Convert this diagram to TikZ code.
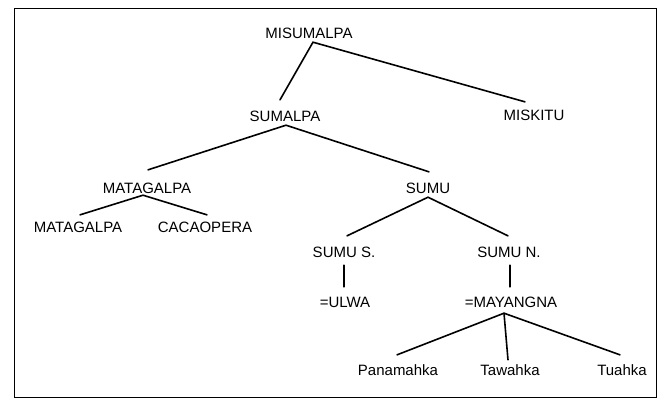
\documentclass[tikz,border=0pt]{standalone}
\usepackage{fontspec}
\setmainfont{Liberation Sans}
\usetikzlibrary{calc}
\begin{document}
\begin{tikzpicture}[x=1pt,y=-1pt,
  lab/.style={anchor=base,inner sep=0pt,text height=10.45pt,text depth=0pt,font=\fontsize{15}{17}\selectfont},
  edge/.style={line width=1.6pt,line cap=round}]
\useasboundingbox (0,0) rectangle (662,398);
\draw[line width=1pt] (14,9) rectangle (656,397);
\node[lab] (misumalpa) at (309,38.5) {MISUMALPA};
\node[lab] (sumalpa) at (285,121.5) {SUMALPA};
\node[lab] (miskitu) at (534,120.5) {MISKITU};
\node[lab] (matagalpaA) at (147,193.5) {MATAGALPA};
\node[lab] (sumu) at (428,193.5) {SUMU};
\node[lab] (matagalpaB) at (78,232.5) {MATAGALPA};
\node[lab] (cacaopera) at (205,232.5) {CACAOPERA};
\node[lab] (sumus) at (344,257.5) {SUMU S.};
\node[lab] (sumun) at (509,257.5) {SUMU N.};
\node[lab] (ulwa) at (345,307.5) {=ULWA};
\node[lab] (mayangna) at (511,307.5) {=MAYANGNA};
\node[lab] (panamahka) at (398,375) {Panamahka};
\node[lab] (tawahka) at (510,375) {Tawahka};
\node[lab] (tuahka) at (622,375) {Tuahka};
\draw[edge] ($(sumalpa.north)+(-5,-11)$) -- ($(misumalpa.south)+(4,3.5)$) -- ($(miskitu.north)+(-9,-8)$);
\draw[edge] ($(matagalpaA.north)+(1,-13)$) -- ($(sumalpa.south)+(1,3.5)$) -- ($(sumu.north)+(1,-11)$);
\draw[edge] ($(matagalpaB.north)+(2,-7)$) -- ($(matagalpaA.south)+(-4,1.5)$) -- ($(cacaopera.north)+(2,-7)$);
\draw[edge] ($(sumus.north)+(3,-11)$) -- ($(sumu.south)+(0,3.5)$) -- ($(sumun.north)+(-1,-11)$);
\draw[edge] ($(sumus.south)+(0,7.5)$) -- ($(ulwa.north)+(-1,-10)$);
\draw[edge] ($(sumun.south)+(1,7.5)$) -- ($(mayangna.north)+(-1,-10)$);
\draw[edge] ($(panamahka.north)+(-1,-9.5)$) -- ($(mayangna.south)+(-7,5.5)$) -- ($(tuahka.north)+(-2,-9.5)$);
\draw[edge] ($(mayangna.south)+(-7,5.5)$) -- ($(tawahka.north)+(-2,-4.5)$);
\end{tikzpicture}
\end{document}
